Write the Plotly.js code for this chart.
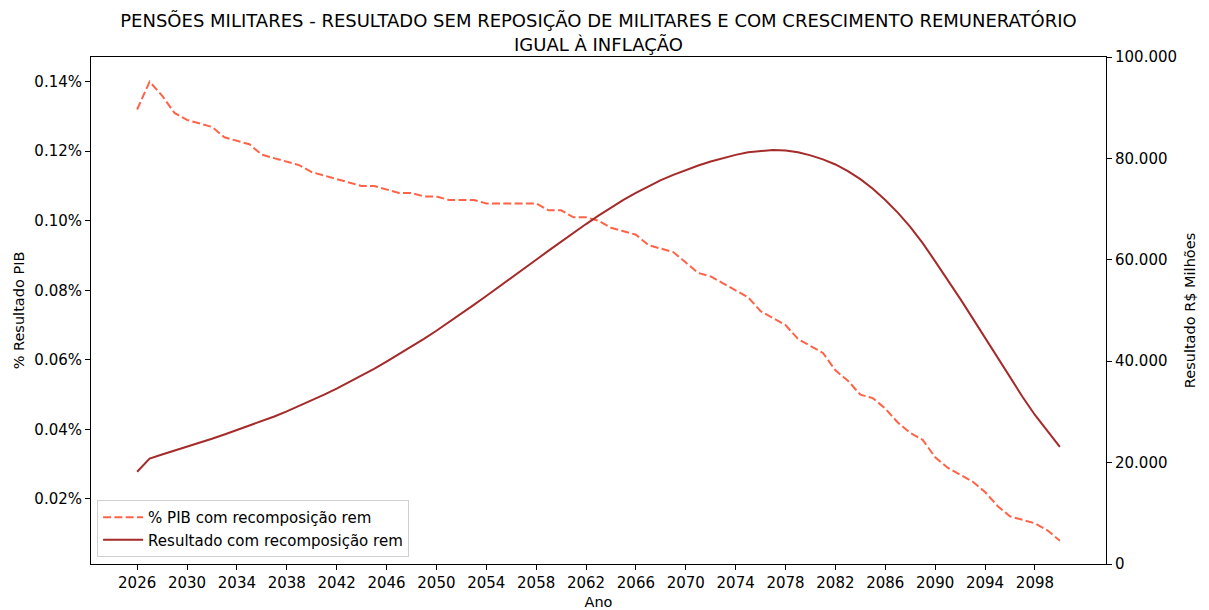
<!DOCTYPE html>
<html>
<head>
<meta charset="utf-8">
<script src="https://cdn.plot.ly/plotly-3.0.1.min.js"></script>
<style>html,body{margin:0;padding:0;background:#fff;}#chart{width:1209px;height:610px;}</style>
</head>
<body>
<div id="chart"></div>
<script>
const anos = [2026,2027,2028,2029,2030,2031,2032,2033,2034,2035,2036,2037,2038,2039,2040,2041,2042,2043,2044,2045,2046,2047,2048,2049,2050,2051,2052,2053,2054,2055,2056,2057,2058,2059,2060,2061,2062,2063,2064,2065,2066,2067,2068,2069,2070,2071,2072,2073,2074,2075,2076,2077,2078,2079,2080,2081,2082,2083,2084,2085,2086,2087,2088,2089,2090,2091,2092,2093,2094,2095,2096,2097,2098,2099,2100];

// % PIB (in percent)
const pibPct = [0.132,0.140,0.136,0.131,0.129,0.128,0.127,0.124,0.123,0.122,0.119,0.118,0.117,0.116,0.114,0.113,0.112,0.111,0.110,0.110,0.109,0.108,0.108,0.107,0.107,0.106,0.106,0.106,0.105,0.105,0.105,0.105,0.105,0.103,0.103,0.101,0.101,0.100,0.098,0.097,0.096,0.093,0.092,0.091,0.088,0.085,0.084,0.082,0.080,0.078,0.074,0.072,0.070,0.066,0.064,0.062,0.057,0.054,0.050,0.049,0.046,0.042,0.039,0.037,0.032,0.029,0.027,0.025,0.022,0.018,0.015,0.014,0.013,0.011,0.008];

// Resultado R$ Milhões
const resultado = [18200,20800,21600,22350,23100,23900,24700,25550,26400,27250,28150,29100,30100,31150,32250,33400,34600,35850,37150,38500,39900,41350,42850,44400,46000,47650,49350,51100,52850,54600,56400,58200,60000,61800,63600,65350,67050,68700,70300,71800,73200,74500,75700,76750,77700,78600,79400,80100,80700,81200,81500,81650,81550,81200,80600,79800,78800,77500,75900,74000,71800,69300,66500,63300,59700,56100,52350,48500,44600,40700,36800,33000,29400,26200,23100];

const xTicks = [2026,2030,2034,2038,2042,2046,2050,2054,2058,2062,2066,2070,2074,2078,2082,2086,2090,2094,2098];
const yLeftTicks = [0.02,0.04,0.06,0.08,0.10,0.12,0.14];
const yLeftLabels = ['0.02%','0.04%','0.06%','0.08%','0.10%','0.12%','0.14%'];
const yRightTicks = [0,20000,40000,60000,80000,100000];
const yRightLabels = ['0','20.000','40.000','60.000','80.000','100.000'];

const FONT = 'DejaVu Sans, sans-serif';

const traces = [
  {x: anos, y: pibPct, type: 'scatter', mode: 'lines', name: '% PIB com recomposição rem',
   line: {color: '#FF6347', width: 2, dash: '8px,3.3px'}, yaxis: 'y'},
  {x: anos, y: resultado, type: 'scatter', mode: 'lines', name: 'Resultado com recomposição rem',
   line: {color: '#A52A2A', width: 2}, yaxis: 'y2'}
];

const layout = {
  width: 1209, height: 610,
  margin: {l: 91, r: 103, t: 57, b: 46},
  paper_bgcolor: '#fff', plot_bgcolor: '#fff',
  font: {family: FONT, size: 15, color: '#000'},
  title: {text: 'PENSÕES MILITARES - RESULTADO SEM REPOSIÇÃO DE MILITARES E COM CRESCIMENTO REMUNERATÓRIO<br>IGUAL À INFLAÇÃO',
          font: {family: FONT, size: 18, color: '#000'}, x: 0.495, xref: 'container', xanchor: 'center',
          y: 0.955, yref: 'container', yanchor: 'top'},
  showlegend: true,
  legend: {x: 0.006, y: 0.014, xanchor: 'left', yanchor: 'bottom', bgcolor: 'rgba(255,255,255,0.8)',
           bordercolor: '#d0d0d0', borderwidth: 1, font: {family: FONT, size: 15, color: '#000'},
           tracegroupgap: 0, itemwidth: 40},
  xaxis: {range: [2022.3, 2103.7], tickvals: xTicks, ticktext: xTicks.map(String), ticks: 'outside', ticklen: 5,
          tickcolor: '#000', showline: true, linecolor: '#000', linewidth: 1, mirror: true, showgrid: false, zeroline: false,
          title: {text: 'Ano', font: {family: FONT, size: 14.5}, standoff: 5}, tickfont: {family: FONT, size: 15}},
  yaxis: {range: [0.0013, 0.1471], tickvals: yLeftTicks, ticktext: yLeftLabels, ticks: 'outside', ticklen: 5,
          tickcolor: '#000', showline: true, linecolor: '#000', linewidth: 1, mirror: true, showgrid: false, zeroline: false,
          title: {text: '% Resultado PIB', font: {family: FONT, size: 14.5}, standoff: 6}, tickfont: {family: FONT, size: 15}},
  yaxis2: {range: [0, 100000], overlaying: 'y', side: 'right', tickvals: yRightTicks, ticktext: yRightLabels,
           ticks: 'outside', ticklen: 5, tickcolor: '#000', showline: true, linecolor: '#000', linewidth: 1,
           showgrid: false, zeroline: false,
           title: {text: 'Resultado R$ Milhões', font: {family: FONT, size: 14.5}, standoff: 8}, tickfont: {family: FONT, size: 15}}
};

Plotly.newPlot('chart', traces, layout, {displayModeBar: false, staticPlot: true});
</script>
</body>
</html>
